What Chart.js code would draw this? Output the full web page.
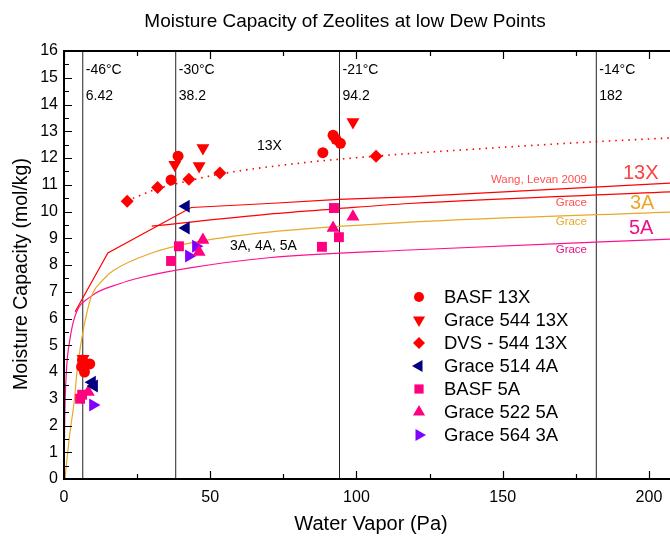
<!DOCTYPE html>
<html>
<head>
<meta charset="utf-8">
<script src="https://cdn.jsdelivr.net/npm/chart.js@4.4.1/dist/chart.umd.min.js"></script>
<style>
html,body{margin:0;padding:0;background:#fff;}
canvas{display:block;}
</style>
</head>
<body>
<canvas id="c" width="670" height="537"></canvas>
<script>
// ---------- data ----------
const yTicks = [0,1,2,3,4,5,6,7,8,9,10,11,12,13,14,15,16];
const xTicks = [0,50,100,150,200];
const dewLabels = ['-46°C','-30°C','-21°C','-14°C'];
const dewPressures = [6.42, 38.2, 94.2, 182];
const dewPressureText = ['6.42','38.2','94.2','182'];

const basf13x_x = [6.3, 8.8, 7.0, 6.0, 36.6, 39.0, 88.5, 92.0, 93.0, 94.5];
const basf13x_y = [4.45, 4.3, 4.0, 4.2, 11.18, 12.07, 12.2, 12.85, 12.7, 12.55];

const grace544_x = [6.5, 37.9, 46.2, 47.5, 98.8];
const grace544_y = [4.5, 11.75, 11.7, 12.37, 13.35];

const dvs544_x = [21.6, 32.0, 42.7, 53.3, 106.7];
const dvs544_y = [10.38, 10.9, 11.21, 11.44, 12.07];

const grace514_x = [9.6, 10.3, 41.7, 41.7];
const grace514_y = [3.62, 3.48, 10.2, 9.38];

const basf5a_x = [5.5, 6.2, 36.6, 39.3, 88.2, 92.3, 94.0];
const basf5a_y = [3.0, 3.15, 8.15, 8.7, 8.68, 10.13, 9.04];

const grace522_x = [8.3, 46.2, 47.5, 92.0, 98.8];
const grace522_y = [3.25, 8.49, 8.93, 9.38, 9.8];

const grace564_x = [9.9, 42.7, 45.1];
const grace564_y = [2.77, 8.34, 8.7];

const fit13x_x = [21.5, 32, 42.7, 53.3, 80, 106.7, 150, 180, 207.2];
const fit13x_y = [10.4, 10.85, 11.15, 11.4, 11.8, 12.07, 12.4, 12.6, 12.75];

const wang_x = [3.8, 15, 43.5, 70, 94, 118, 207.2];
const wang_y = [6.25, 8.45, 10.15, 10.3, 10.45, 10.55, 11.06];

const grace13x_x = [30, 70, 93, 118, 207.2];
const grace13x_y = [9.45, 9.9, 10.1, 10.3, 10.73];

const grace3a_x = [0.3, 2, 3.6, 4.4, 6, 8, 9.6, 13.3, 17, 30, 43, 70, 118, 207.2];
const grace3a_y = [0, 1.7, 3.0, 3.96, 5.2, 6.3, 6.9, 7.44, 7.8, 8.45, 8.82, 9.23, 9.6, 9.98];

const grace5a_x = [0, 0.3, 0.8, 2, 3.8, 8.9, 19, 27, 43, 70, 118, 207.2];
const grace5a_y = [0.3, 2.5, 4.0, 5.2, 6.1, 6.8, 7.3, 7.55, 7.89, 8.27, 8.56, 8.97];

// ---------- helpers ----------
const pts = (xs, ys) => xs.map((x, i) => ({x: x, y: ys[i]}));
const FONT = '"Liberation Sans", Arial, sans-serif';

const markerSets = [
  {label:'BASF 13X',     xs:basf13x_x,  ys:basf13x_y,  color:'#FF0000', style:'circle',   rot:0,   r:5.5},
  {label:'Grace 544 13X',xs:grace544_x, ys:grace544_y, color:'#FF0000', style:'triangle', rot:180, r:7.5},
  {label:'DVS - 544 13X',xs:dvs544_x,   ys:dvs544_y,   color:'#FF0000', style:'rectRot',  rot:0,   r:6.5},
  {label:'Grace 514 4A', xs:grace514_x, ys:grace514_y, color:'#000080', style:'triangle', rot:270, r:7.5},
  {label:'BASF 5A',      xs:basf5a_x,   ys:basf5a_y,   color:'#FF0080', style:'rect',     rot:0,   r:7},
  {label:'Grace 522 5A', xs:grace522_x, ys:grace522_y, color:'#FF0080', style:'triangle', rot:0,   r:7.5},
  {label:'Grace 564 3A', xs:grace564_x, ys:grace564_y, color:'#8000FF', style:'triangle', rot:90,  r:7.5}
];

const datasets = [];
markerSets.forEach(m => {
  datasets.push({
    type:'scatter', label:m.label, data:pts(m.xs, m.ys),
    pointStyle:m.style, pointRotation:m.rot, pointRadius:m.r,
    backgroundColor:m.color, borderColor:m.color, pointBorderWidth:0,
    showLine:false
  });
});
const lineSets = [
  {label:'fit13x',  xs:fit13x_x,  ys:fit13x_y,  color:'#FF0000', w:1.6, dash:[1.5,5], tension:0.3},
  {label:'wang',    xs:wang_x,    ys:wang_y,    color:'#FF0000', w:1.2, dash:[], tension:0},
  {label:'grace13x',xs:grace13x_x,ys:grace13x_y,color:'#FF0000', w:1.2, dash:[], tension:0.2},
  {label:'grace3a', xs:grace3a_x, ys:grace3a_y, color:'#E8A82A', w:1.2, dash:[], tension:0.4},
  {label:'grace5a', xs:grace5a_x, ys:grace5a_y, color:'#FF1090', w:1.2, dash:[], tension:0.4}
];
lineSets.forEach(l => {
  datasets.push({
    type:'line', label:l.label, data:pts(l.xs, l.ys),
    borderColor:l.color, borderWidth:l.w, borderDash:l.dash,
    pointRadius:0, fill:false, tension:l.tension,
    cubicInterpolationMode: l.tension > 0 ? 'monotone' : 'default'
  });
});
dewPressures.forEach((p, i) => {
  datasets.push({
    type:'line', label:'dew'+i, data:[{x:p, y:yTicks[0]}, {x:p, y:yTicks[yTicks.length-1]}],
    borderColor:'#222', borderWidth:1, pointRadius:0, fill:false
  });
});

function drawMarker(ctx, style, rot, r, x, y, color){
  ctx.save();
  ctx.fillStyle = color;
  ctx.translate(x, y);
  ctx.rotate(rot * Math.PI / 180);
  ctx.beginPath();
  if (style === 'circle') {
    ctx.arc(0, 0, r, 0, Math.PI*2);
  } else if (style === 'triangle') {
    for (let k = 0; k < 3; k++) {
      const a = k * 2 * Math.PI / 3;
      const px = Math.sin(a) * r, py = -Math.cos(a) * r;
      if (k === 0) ctx.moveTo(px, py); else ctx.lineTo(px, py);
    }
    ctx.closePath();
  } else if (style === 'rect') {
    const s = r * Math.SQRT1_2;
    ctx.rect(-s, -s, 2*s, 2*s);
  } else if (style === 'rectRot') {
    ctx.moveTo(0, -r); ctx.lineTo(r, 0); ctx.lineTo(0, r); ctx.lineTo(-r, 0); ctx.closePath();
  }
  ctx.fill();
  ctx.restore();
}

const decor = {
  id:'decor',
  afterDraw(chart){
    const ctx = chart.ctx;
    const xs = chart.scales.x, ys = chart.scales.y;
    const ca = chart.chartArea;
    ctx.save();
    // frame
    ctx.strokeStyle = '#000';
    ctx.lineWidth = 2;
    ctx.beginPath();
    ctx.moveTo(ca.right, ca.top); ctx.lineTo(ca.left, ca.top);
    ctx.lineTo(ca.left, ca.bottom); ctx.lineTo(ca.right, ca.bottom);
    ctx.stroke();
    // ticks
    ctx.lineWidth = 1.2;
    ctx.beginPath();
    for (let v = 0; v <= 16; v += 0.5) {
      const py = Math.round(ys.getPixelForValue(v)) + 0.5;
      const len = (v % 1 === 0) ? 8 : 5;
      ctx.moveTo(ca.left, py); ctx.lineTo(ca.left + len, py);
    }
    for (let v = 0; v <= 207; v += 25) {
      const px = Math.round(xs.getPixelForValue(v)) + 0.5;
      const len = (v % 50 === 0) ? 8 : 5;
      ctx.moveTo(px, ca.bottom); ctx.lineTo(px, ca.bottom - len);
      ctx.moveTo(px, ca.top); ctx.lineTo(px, ca.top + len);
    }
    ctx.stroke();

    // titles
    ctx.fillStyle = '#000';
    ctx.textBaseline = 'middle';
    ctx.textAlign = 'center';
    ctx.font = '19px ' + FONT;
    ctx.fillText('Moisture Capacity of Zeolites at low Dew Points', 345, 22);
    ctx.font = '20px ' + FONT;
    ctx.fillText('Water Vapor (Pa)', 371, 524);
    ctx.save();
    ctx.translate(22, 274);
    ctx.rotate(-Math.PI/2);
    ctx.font = '19.5px ' + FONT;
    ctx.fillText('Moisture Capacity (mol/kg)', 0, 0);
    ctx.restore();

    // dew point annotations
    ctx.textAlign = 'left';
    ctx.font = '14px ' + FONT;
    dewPressures.forEach((p, i) => {
      const px = xs.getPixelForValue(p) + 3;
      ctx.fillText(dewLabels[i], px, 70.5);
      ctx.fillText(dewPressureText[i], px, 96);
    });

    // inline labels
    ctx.font = '14px ' + FONT;
    ctx.fillText('13X', 257, 146);
    ctx.fillText('3A, 4A, 5A', 230, 246);

    ctx.textAlign = 'right';
    ctx.font = '11.5px ' + FONT;
    ctx.fillStyle = '#FF5050';
    ctx.fillText('Wang, Levan 2009', 587, 180);
    ctx.fillText('Grace', 587, 203);
    ctx.fillStyle = '#E8A82A';
    ctx.fillText('Grace', 587, 222);
    ctx.fillStyle = '#F0108A';
    ctx.fillText('Grace', 587, 250);

    ctx.textAlign = 'left';
    ctx.font = '20px ' + FONT;
    ctx.fillStyle = '#FF4040';
    ctx.fillText('13X', 623, 173);
    ctx.fillStyle = '#E8A82A';
    ctx.fillText('3A', 630, 203);
    ctx.fillStyle = '#F0108A';
    ctx.fillText('5A', 629, 228);

    // legend
    ctx.font = '18.5px ' + FONT;
    ctx.fillStyle = '#000';
    markerSets.forEach((m, i) => {
      const y = 297 + i * 23;
      const r = m.style === 'circle' ? 5 : (m.style === 'rect' ? 6.5 : (m.style === 'rectRot' ? 6 : 7));
      drawMarker(ctx, m.style, m.rot, r, 419, y, m.color);
      ctx.fillStyle = '#000';
      ctx.fillText(m.label, 444, y + 1);
    });
    ctx.restore();
  }
};

new Chart(document.getElementById('c'), {
  data:{datasets:datasets},
  options:{
    responsive:false, animation:false, devicePixelRatio:1,
    layout:{autoPadding:false, padding:{top:51, left:0, right:0, bottom:0}},
    plugins:{legend:{display:false}, title:{display:false}, tooltip:{enabled:false}},
    scales:{
      x:{
        type:'linear', min:0, max:207.2,
        grid:{display:false, drawTicks:false}, border:{display:false},
        afterFit(s){ s.height = 58; s.paddingLeft = 0; s.paddingRight = 0; },
        afterBuildTicks(s){ s.ticks = xTicks.map(v => ({value:v})); },
        ticks:{padding:9, color:'#000', font:{size:16, family:FONT}, includeBounds:false, maxRotation:0}
      },
      y:{
        type:'linear', min:0, max:16,
        grid:{display:false, drawTicks:false}, border:{display:false},
        afterFit(s){ s.width = 64; s.paddingTop = 0; s.paddingBottom = 0; },
        afterBuildTicks(s){ s.ticks = yTicks.map(v => ({value:v})); },
        ticks:{padding:6, color:'#000', font:{size:16, family:FONT}}
      }
    }
  },
  plugins:[decor]
});
</script>
</body>
</html>
